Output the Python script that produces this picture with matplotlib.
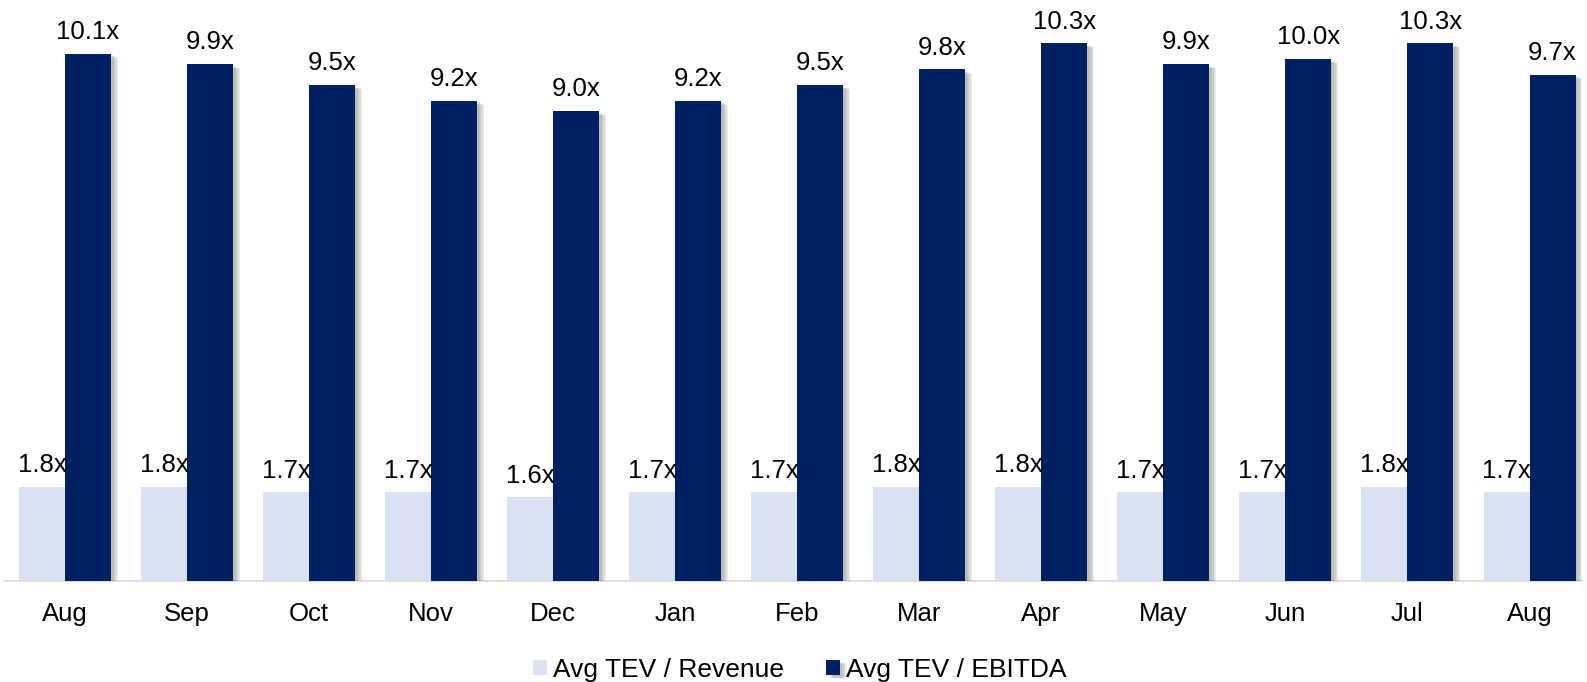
import numpy as np
import matplotlib
matplotlib.use("Agg")
import matplotlib.pyplot as plt
import matplotlib.patheffects as pe

# data
months = ["Aug", "Sep", "Oct", "Nov", "Dec", "Jan", "Feb",
          "Mar", "Apr", "May", "Jun", "Jul", "Aug"]
tev_revenue = [1.8, 1.8, 1.7, 1.7, 1.6, 1.7, 1.7, 1.8, 1.8, 1.7, 1.7, 1.8, 1.7]
tev_ebitda = [10.1, 9.9, 9.5, 9.2, 9.0, 9.2, 9.5, 9.8, 10.3, 9.9, 10.0, 10.3, 9.7]
series_names = ["Avg TEV / Revenue", "Avg TEV / EBITDA"]

light = "#D9E1F2"
dark = "#002060"
size = 18.5

plt.rcParams.update({"font.family": ["Liberation Sans", "DejaVu Sans"]})

fig = plt.figure(figsize=(15.87, 6.82), dpi=100)
ax = fig.add_axes([4 / 1587, 101 / 682, 1578 / 1587, 581 / 682])

x = np.arange(len(months))
w = 0.377

# soft shadow to the right of the bars
shadow = [pe.SimplePatchShadow(offset=(d, -d * 0.6), shadow_rgbFace="black", alpha=0.07)
          for d in (5, 4, 3, 2)] + [pe.Normal()]

b1 = ax.bar(x - w / 2, tev_revenue, w, color=light, label=series_names[0], zorder=2)
b2 = ax.bar(x + w / 2, tev_ebitda, w, color=dark, label=series_names[1], zorder=3)
for r in b2:
    r.set_path_effects(shadow)

for bars, vals in ((b1, tev_revenue), (b2, tev_ebitda)):
    for r, v in zip(bars, vals):
        ax.annotate(f"{v:.1f}x", (r.get_x() + r.get_width() / 2, r.get_height()),
                    xytext=(0, 7), textcoords="offset points",
                    ha="center", va="bottom", fontsize=size, color="black", zorder=5)

ax.set_xlim(-0.5, 12.43)
ax.set_ylim(0, 11.13)
ax.set_xticks(x)
ax.set_xticklabels(months, fontsize=size)
ax.tick_params(axis="x", length=0, pad=15)
ax.set_yticks([])
for s in ("top", "right", "left"):
    ax.spines[s].set_visible(False)
ax.spines["bottom"].set_color("#D9D9D9")
ax.spines["bottom"].set_linewidth(1.2)

fig.legend(handles=[b1, b2], labels=series_names, loc="center",
           bbox_to_anchor=(800 / 1587, 1 - 670 / 682), ncol=2, frameon=False,
           fontsize=19, handlelength=0.5, handleheight=0.5,
           handletextpad=0.25, columnspacing=1.6)

fig.savefig("out.png", dpi=100)
